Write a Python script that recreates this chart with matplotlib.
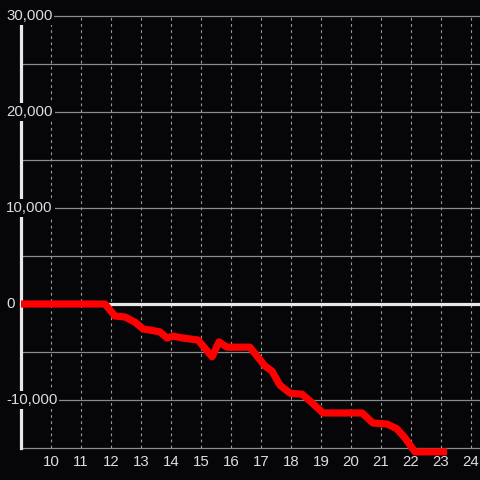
import matplotlib
matplotlib.use("Agg")
import matplotlib.pyplot as plt

# ─── Dados ───────────────────────────────────────────────────────────────────
horas = [9.0, 11.8, 12.13, 12.47, 12.8, 13.07, 13.63, 13.87, 14.07, 14.4, 14.9,
         15.37, 15.6, 15.87, 16.63, 17.13, 17.37, 17.63, 17.97, 18.37, 18.63,
         19.07, 20.37, 20.73, 21.2, 21.53, 21.8, 22.13, 23.2]
valores = [0, 0, -1250, -1350, -1900, -2600, -2900, -3550, -3350, -3550, -3750,
           -5500, -3950, -4500, -4500, -6450, -7000, -8450, -9300, -9400, -10100,
           -11350, -11350, -12400, -12500, -13000, -13950, -15400, -15400]

x_ticks = list(range(10, 25))
y_ticks = [-10000, 0, 10000, 20000, 30000]
y_grid = [-15000, -10000, -5000, 0, 5000, 10000, 15000, 20000, 25000, 30000]

FUNDO = "#060608"
TEXTO = "#dddddd"

plt.rcParams["font.family"] = ["Liberation Sans", "DejaVu Sans"]

fig = plt.figure(figsize=(4.8, 4.8), dpi=100, facecolor=FUNDO)
ax = fig.add_axes([0, 0, 1, 1])
ax.set_facecolor(FUNDO)

# eixo ocupa a figura toda: 30 px por hora, 96 px por 10.000
x0 = 9 - 21 / 30
ax.set_xlim(x0, x0 + 480 / 30)
ax.set_ylim(-176 / 96 * 10000, 304 / 96 * 10000)
ax.axis("off")

# grade
for yv in y_grid:
    if yv == 0:
        continue
    ax.plot([9, 25], [yv, yv], color="#8a8a8a", lw=0.9, zorder=1)
for xv in x_ticks:
    ax.plot([xv, xv], [-15000, 30000], color="#9a9a9a", lw=0.8,
            linestyle=(0, (2.5, 3)), zorder=1)

# linha do zero e eixo vertical
ax.plot([9, 25], [0, 0], color="#e8e8e8", lw=2.3, zorder=2)
ax.plot([9, 9], [-15000, 29200], color="#e8e8e8", lw=2.3, zorder=2)

# série
ax.plot(horas, valores, color="#ff0000", lw=5.2, solid_joinstyle="round",
        solid_capstyle="butt", zorder=3)

# rótulos
caixa = dict(facecolor=FUNDO, edgecolor="none", pad=1.5)
for yv in y_ticks:
    ax.text(x0 + 6 / 30, yv, f"{yv:,}", color=TEXTO,
            fontsize=10.8, ha="left", va="center", bbox=caixa, zorder=4)
for xv in x_ticks:
    ax.text(xv, -158 / 96 * 10000, str(xv), color=TEXTO, fontsize=10.8,
            ha="center", va="center", zorder=4)

fig.savefig("out.png", dpi=100, facecolor=FUNDO)
